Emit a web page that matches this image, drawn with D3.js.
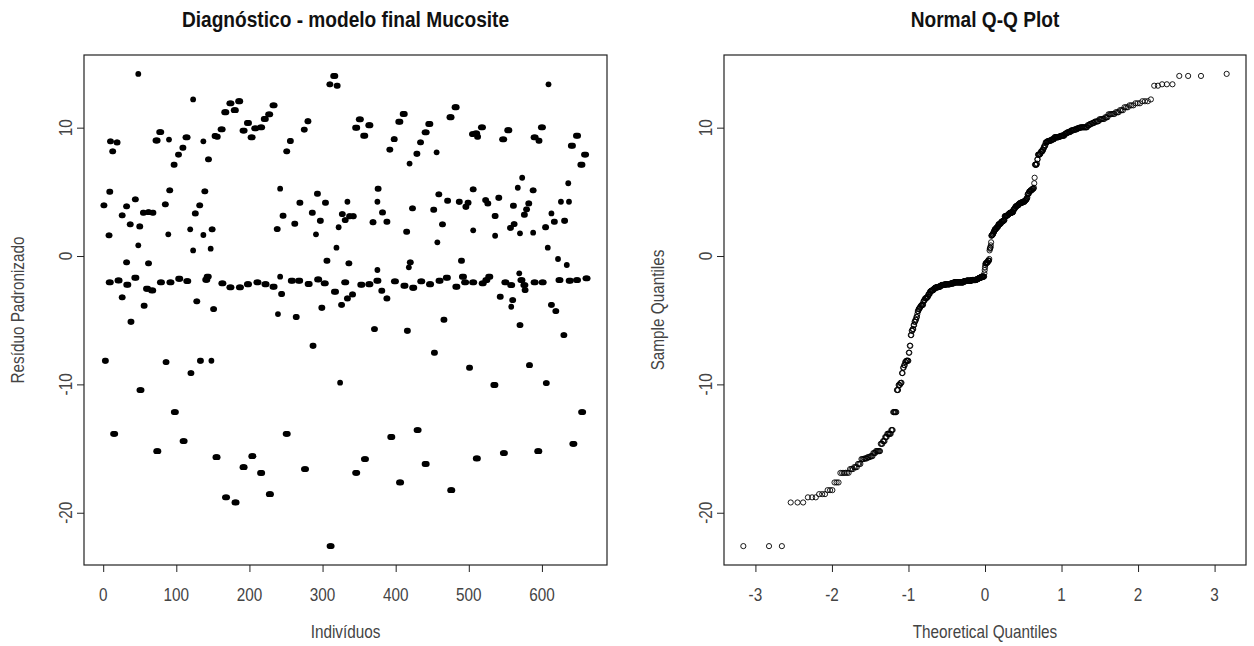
<!DOCTYPE html>
<html>
<head>
<meta charset="utf-8">
<script src="https://cdn.jsdelivr.net/npm/d3@7"></script>
<style>
body { margin: 0; background: #fff; }
text { font-family: "Liberation Sans", Arial, sans-serif; }
</style>
</head>
<body>
<svg id="chart" width="1254" height="646"></svg>
<script>
// Residuals: one entry per visible blob
// (blob centre index, residual, how many points overlap in it)
var blobIdx = [1,3,8,9,9,10,13,15,19,21,26,26,32,32,33,37,38,44,44,48,48,50,51,55,56,60,62,62,67,68,
  73,74,78,79,85,86,89,90,91,92,97,98,103,104,109,110,114,115,119,120,123,123,126,128,132,133,137,137,139,141,
  143,144,147,148,149,151,153,155,
  156,162,163,167,168,174,174,180,181,186,187,192,192,198,198,203,204,208,211,216,216,221,222,227,228,233,233,238,239,242,
  242,244,246,251,251,256,258,262,264,268,269,275,276,280,281,286,287,291,293,294,297,299,303,304,306,310,311,316,317,319,
  320,322,324,326,327,
  331,331,334,334,336,337,341,342,346,346,351,353,357,358,364,364,369,371,376,375,375,375,381,382,388,388,392,394,398,399,
  405,406,411,412,415,416,418,419,420,423,424,429,430,434,435,441,441,446,447,452,453,456,457,459,460,464,466,470,471,475,
  476,482,483,487,490,492,495,496,499,501,505,506,506,506,
  510,511,512,518,519,523,524,526,528,535,536,536,541,543,547,548,550,554,557,558,558,560,561,562,567,569,570,570,572,573,
  576,576,577,579,582,583,588,588,590,590,595,596,600,601,605,606,608,609,613,613,617,619,622,624,626,630,631,634,636,637,
  638,641,643,648,648,654,655,659,661];

var blobRes = [3.95,-8.16,1.61,5.01,-2.05,8.94,8.16,-13.85,8.85,-1.9,3.17,-3.22,3.87,-0.49,-2.23,2.47,-5.12,4.42,-1.69,14.19,0.83,2.31,-10.44,3.38,-3.87,-2.55,3.42,-0.57,-2.68,3.38,
  9.0,-15.2,9.66,-2.05,4.03,-8.26,1.69,9.07,5.12,-2.05,7.12,-12.16,7.9,-1.77,8.44,-14.42,9.25,-1.95,2.08,-9.12,12.2,0.44,3.32,-3.53,3.95,-8.16,8.94,1.64,5.04,-1.85,
  -1.6,7.53,0.57,-8.16,2.08,-4.13,9.35,-15.67,
  9.3,9.87,-2.13,11.2,-18.8,11.9,-2.44,11.36,-19.2,12.06,-2.44,9.77,-16.45,10.37,-2.2,9.25,-15.59,9.95,-2.05,10.03,-16.9,10.68,-2.2,11.04,-18.55,11.74,-2.39,2.1,-4.52,5.25,
  -1.61,-2.96,3.14,8.16,-13.85,8.96,-1.92,2.52,-4.75,-1.92,4.16,9.85,-16.6,10.5,-2.18,3.38,-6.99,1.69,4.86,-1.82,2.75,-4.03,-2.13,4.16,-0.36,13.38,-22.6,14.03,-2.78,0.65,
  13.27,2.24,-9.87,-3.8,3.27,
  -2.05,2.8,4.23,-3.3,-0.57,3.1,-2.99,3.1,10.0,-16.89,10.65,-2.23,9.38,-15.82,10.19,-2.2,2.63,-5.69,5.25,4.23,-1.09,-1.92,-2.7,3.4,2.68,-3.3,8.29,-14.1,9.1,-1.97,
  10.47,-17.64,11.07,-2.31,1.9,-5.82,-0.88,7.2,-0.49,3.72,-2.47,7.97,-13.56,8.86,-1.97,9.64,-16.2,10.29,-2.2,3.61,-7.53,8.08,1.07,4.81,-1.92,2.47,-4.96,-1.69,4.31,10.81,
  -18.24,11.59,-2.39,4.23,-0.36,-1.61,-2.05,3.84,4.16,-8.7,9.5,5.2,-2.05,2.0,
  9.56,-15.77,9.3,10.03,-2.13,4.36,-1.87,4.1,-1.61,-10.05,3.12,1.58,4.54,-3.17,9.09,-15.35,-2.05,9.8,2.2,-2.26,-3.95,-3.43,3.92,2.49,5.32,-1.35,1.77,-5.38,-1.87,6.1,
  3.22,-2.26,-2.65,3.64,4.1,-8.5,5.12,1.82,9.25,-2.05,-15.2,8.99,10.03,-2.05,2.24,-9.9,0.65,13.38,3.32,-3.8,2.68,-4.29,-0.23,-1.87,4.23,-6.16,2.75,-0.7,5.67,4.23,
  -1.92,8.6,-14.63,9.38,-1.87,7.12,-12.16,7.9,-1.74];

var blobCount = [2,2,2,2,3,2,2,3,2,3,2,2,2,2,3,2,2,2,3,1,1,2,3,2,2,3,2,2,3,2,
  3,3,3,3,2,2,1,1,2,3,2,3,2,3,2,3,3,3,1,2,1,1,2,2,2,2,1,1,2,3,
  3,2,1,1,2,2,2,3,
  2,3,3,3,3,3,3,3,3,3,3,3,3,3,3,3,3,3,3,3,3,3,3,3,3,3,3,2,1,1,
  1,2,2,2,3,2,3,2,2,3,2,2,3,2,3,2,2,1,2,3,2,2,3,2,2,2,3,3,3,1,
  2,1,1,2,2,
  3,2,1,2,2,2,2,2,3,3,3,3,3,3,3,3,2,2,2,1,1,3,2,2,2,2,2,3,2,3,
  3,3,3,3,2,2,1,1,2,2,3,2,3,2,3,3,3,3,3,2,2,1,1,2,3,2,2,3,2,3,
  3,3,3,2,2,3,3,2,2,2,2,2,3,1,
  3,3,2,3,3,2,3,2,3,3,2,1,2,2,3,3,3,3,2,3,1,2,2,2,1,1,1,2,3,1,
  2,3,2,2,2,2,2,1,3,3,3,2,3,3,2,2,1,1,1,2,2,2,1,3,1,2,2,1,1,1,
  3,3,3,3,3,3,3,3,3];

var xTicks = [0, 100, 200, 300, 400, 500, 600];
var yTicks = [-20, -10, 0, 10];
var qqTicks = [-3, -2, -1, 0, 1, 2, 3];

var titles = ["Diagnóstico - modelo final Mucosite", "Normal Q-Q Plot"];
var xTitles = ["Indivíduos", "Theoretical Quantiles"];
var yTitles = ["Resíduo Padronizado", "Sample Quantiles"];

// layout
var boxTop = 55, boxBottom = 565;
var panelLeft = [84, 724], panelRight = [607, 1246];
var squeeze = 0.85;   // the fonts in the picture are drawn a bit narrow

// expand the blobs into single observations, points in a blob sit 1.5 index apart
var obs = [];
blobIdx.forEach(function (c, i) {
  var k = blobCount[i];
  for (var j = 0; j < k; j++) {
    obs.push({ x: c + (j - (k - 1) / 2) * 1.5, r: blobRes[i] });
  }
});

// inverse normal cdf (Acklam), used for the theoretical quantiles
function qnorm(p) {
  var a = [-3.969683028665376e+01, 2.209460984245205e+02, -2.759285104469687e+02, 1.383577518672690e+02, -3.066479806614716e+01, 2.506628277459239e+00];
  var b = [-5.447609879822406e+01, 1.615858368580409e+02, -1.556989798598866e+02, 6.680131188771972e+01, -1.328068155288572e+01];
  var c = [-7.784894002430293e-03, -3.223964580411365e-01, -2.400758277161838e+00, -2.549732539343734e+00, 4.374664141464968e+00, 2.938163982698783e+00];
  var d = [7.784695709041462e-03, 3.224671290700398e-01, 2.445134137142996e+00, 3.754408661907416e+00];
  var plow = 0.02425, q, r;
  if (p < plow) {
    q = Math.sqrt(-2 * Math.log(p));
    return (((((c[0]*q+c[1])*q+c[2])*q+c[3])*q+c[4])*q+c[5]) / ((((d[0]*q+d[1])*q+d[2])*q+d[3])*q+1);
  }
  if (p > 1 - plow) {
    q = Math.sqrt(-2 * Math.log(1 - p));
    return -(((((c[0]*q+c[1])*q+c[2])*q+c[3])*q+c[4])*q+c[5]) / ((((d[0]*q+d[1])*q+d[2])*q+d[3])*q+1);
  }
  q = p - 0.5; r = q * q;
  return (((((a[0]*r+a[1])*r+a[2])*r+a[3])*r+a[4])*r+a[5])*q / (((((b[0]*r+b[1])*r+b[2])*r+b[3])*r+b[4])*r+1);
}

var n = obs.length;
var sorted = obs.map(function (o) { return o.r; }).sort(d3.ascending);
var qq = sorted.map(function (v, i) { return { t: qnorm((i + 0.5) / n), s: v }; });

// R pads the data range by 4% on each side
function rPad(ext) {
  var d = (ext[1] - ext[0]) * 0.04;
  return [ext[0] - d, ext[1] + d];
}

var svg = d3.select("#chart");
svg.append("rect").attr("width", 1254).attr("height", 646).attr("fill", "#fff");

var y = d3.scaleLinear().domain(rPad(d3.extent(sorted))).range([boxBottom, boxTop]);
var xL = d3.scaleLinear().domain(rPad(d3.extent(obs, function (o) { return o.x; }))).range([panelLeft[0], panelRight[0]]);
var xR = d3.scaleLinear().domain(rPad(d3.extent(qq, function (o) { return o.t; }))).range([panelLeft[1], panelRight[1]]);

function label(g, txt, x, yy, size, opts) {
  opts = opts || {};
  var rot = opts.rotate ? " rotate(-90)" : "";
  g.append("text")
    .attr("transform", "translate(" + x + "," + yy + ")" + rot + " scale(" + squeeze + ",1)")
    .attr("text-anchor", "middle")
    .attr("font-size", size)
    .attr("font-weight", opts.bold ? "bold" : "normal")
    .attr("fill", opts.color || "#444")
    .text(txt);
}

function drawPanel(p, xs, ticks) {
  var g = svg.append("g");
  var l = panelLeft[p], r = panelRight[p];

  // x axis: ticks hang below the box
  var xa = d3.axisBottom(xs).tickValues(ticks).tickSize(7).tickFormat("");
  var gx = g.append("g").attr("transform", "translate(0," + boxBottom + ")").call(xa);
  gx.select(".domain").remove();
  gx.selectAll("line").attr("stroke", "#222");
  ticks.forEach(function (t) {
    label(g, String(t), xs(t), 601, 18);
  });

  var ya = d3.axisLeft(y).tickValues(yTicks).tickSize(7).tickFormat("");
  var gy = g.append("g").attr("transform", "translate(" + l + ",0)").call(ya);
  gy.select(".domain").remove();
  gy.selectAll("line").attr("stroke", "#222");
  yTicks.forEach(function (t) {
    label(g, String(t), l - 12, y(t), 18, { rotate: true });
  });

  g.append("rect")
    .attr("x", l).attr("y", boxTop)
    .attr("width", r - l).attr("height", boxBottom - boxTop)
    .attr("fill", "none").attr("stroke", "#222").attr("stroke-width", 1.2);

  label(g, titles[p], (l + r) / 2, 27, 22.5, { bold: true, color: "#111" });
  label(g, xTitles[p], (l + r) / 2, 638, 18);
  label(g, yTitles[p], l - 60, (boxTop + boxBottom) / 2, 18, { rotate: true });
  return g;
}

var gL = drawPanel(0, xL, xTicks);
gL.append("g").selectAll("circle")
  .data(obs)
  .join("circle")
  .attr("cx", function (d) { return xL(d.x); })
  .attr("cy", function (d) { return y(d.r); })
  .attr("r", 2.9)
  .attr("fill", "#000");

var gR = drawPanel(1, xR, qqTicks);
gR.append("g").selectAll("circle")
  .data(qq)
  .join("circle")
  .attr("cx", function (d) { return xR(d.t); })
  .attr("cy", function (d) { return y(d.s); })
  .attr("r", 2.6)
  .attr("fill", "none")
  .attr("stroke", "#000")
  .attr("stroke-width", 0.9);
</script>
</body>
</html>
